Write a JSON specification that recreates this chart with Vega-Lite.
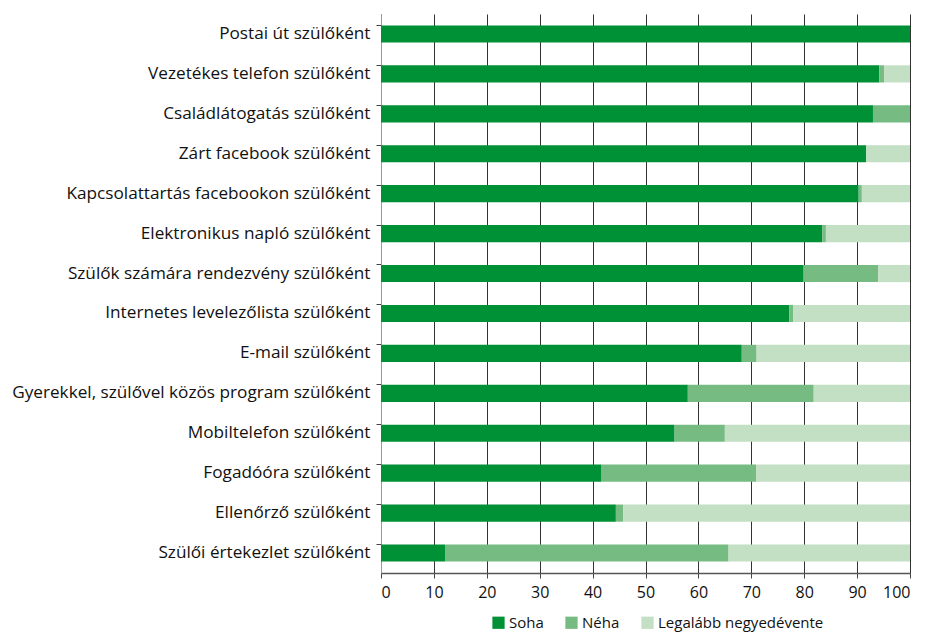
{
  "$schema": "https://vega.github.io/schema/vega-lite/v6.json",
  "width": 529,
  "height": 559,
  "autosize": "none",
  "padding": {"left": 381, "top": 14, "right": 16, "bottom": 60},
  "background": "white",
  "data": {
    "values": [
      {"cat": "Postai út szülőként", "resp": "Soha", "ord": 1, "val": 100},
      {"cat": "Postai út szülőként", "resp": "Néha", "ord": 2, "val": 0},
      {"cat": "Postai út szülőként", "resp": "Legalább negyedévente", "ord": 3, "val": 0},
      {"cat": "Vezetékes telefon szülőként", "resp": "Soha", "ord": 1, "val": 94.2},
      {"cat": "Vezetékes telefon szülőként", "resp": "Néha", "ord": 2, "val": 0.9},
      {"cat": "Vezetékes telefon szülőként", "resp": "Legalább negyedévente", "ord": 3, "val": 4.9},
      {"cat": "Családlátogatás szülőként", "resp": "Soha", "ord": 1, "val": 93.0},
      {"cat": "Családlátogatás szülőként", "resp": "Néha", "ord": 2, "val": 7.0},
      {"cat": "Családlátogatás szülőként", "resp": "Legalább negyedévente", "ord": 3, "val": 0},
      {"cat": "Zárt facebook szülőként", "resp": "Soha", "ord": 1, "val": 91.7},
      {"cat": "Zárt facebook szülőként", "resp": "Néha", "ord": 2, "val": 0},
      {"cat": "Zárt facebook szülőként", "resp": "Legalább negyedévente", "ord": 3, "val": 8.3},
      {"cat": "Kapcsolattartás facebookon szülőként", "resp": "Soha", "ord": 1, "val": 90.3},
      {"cat": "Kapcsolattartás facebookon szülőként", "resp": "Néha", "ord": 2, "val": 0.6},
      {"cat": "Kapcsolattartás facebookon szülőként", "resp": "Legalább negyedévente", "ord": 3, "val": 9.1},
      {"cat": "Elektronikus napló szülőként", "resp": "Soha", "ord": 1, "val": 83.4},
      {"cat": "Elektronikus napló szülőként", "resp": "Néha", "ord": 2, "val": 0.7},
      {"cat": "Elektronikus napló szülőként", "resp": "Legalább negyedévente", "ord": 3, "val": 15.9},
      {"cat": "Szülők számára rendezvény szülőként", "resp": "Soha", "ord": 1, "val": 79.9},
      {"cat": "Szülők számára rendezvény szülőként", "resp": "Néha", "ord": 2, "val": 14.1},
      {"cat": "Szülők számára rendezvény szülőként", "resp": "Legalább negyedévente", "ord": 3, "val": 6.0},
      {"cat": "Internetes levelezőlista szülőként", "resp": "Soha", "ord": 1, "val": 77.2},
      {"cat": "Internetes levelezőlista szülőként", "resp": "Néha", "ord": 2, "val": 0.7},
      {"cat": "Internetes levelezőlista szülőként", "resp": "Legalább negyedévente", "ord": 3, "val": 22.1},
      {"cat": "E-mail szülőként", "resp": "Soha", "ord": 1, "val": 68.2},
      {"cat": "E-mail szülőként", "resp": "Néha", "ord": 2, "val": 2.8},
      {"cat": "E-mail szülőként", "resp": "Legalább negyedévente", "ord": 3, "val": 29.0},
      {"cat": "Gyerekkel, szülővel közös program szülőként", "resp": "Soha", "ord": 1, "val": 58.0},
      {"cat": "Gyerekkel, szülővel közös program szülőként", "resp": "Néha", "ord": 2, "val": 23.8},
      {"cat": "Gyerekkel, szülővel közös program szülőként", "resp": "Legalább negyedévente", "ord": 3, "val": 18.2},
      {"cat": "Mobiltelefon szülőként", "resp": "Soha", "ord": 1, "val": 55.5},
      {"cat": "Mobiltelefon szülőként", "resp": "Néha", "ord": 2, "val": 9.5},
      {"cat": "Mobiltelefon szülőként", "resp": "Legalább negyedévente", "ord": 3, "val": 35.0},
      {"cat": "Fogadóóra szülőként", "resp": "Soha", "ord": 1, "val": 41.7},
      {"cat": "Fogadóóra szülőként", "resp": "Néha", "ord": 2, "val": 29.2},
      {"cat": "Fogadóóra szülőként", "resp": "Legalább negyedévente", "ord": 3, "val": 29.1},
      {"cat": "Ellenőrző szülőként", "resp": "Soha", "ord": 1, "val": 44.4},
      {"cat": "Ellenőrző szülőként", "resp": "Néha", "ord": 2, "val": 1.4},
      {"cat": "Ellenőrző szülőként", "resp": "Legalább negyedévente", "ord": 3, "val": 54.2},
      {"cat": "Szülői értekezlet szülőként", "resp": "Soha", "ord": 1, "val": 12.1},
      {"cat": "Szülői értekezlet szülőként", "resp": "Néha", "ord": 2, "val": 53.6},
      {"cat": "Szülői értekezlet szülőként", "resp": "Legalább negyedévente", "ord": 3, "val": 34.3}
    ]
  },
  "mark": {"type": "bar"},
  "encoding": {
    "y": {
      "field": "cat",
      "type": "nominal",
      "sort": null,
      "title": null,
      "scale": {"paddingInner": 0.57, "paddingOuter": 0.285},
      "axis": {
        "bandPosition": 0,
        "labelFont": "Open Sans",
        "labelFontSize": 17.2,
        "labelColor": "#111",
        "labelPadding": 6,
        "labelLimit": 400,
        "tickColor": "#444",
        "tickSize": 5,
        "domainColor": "#999",
        "grid": false
      }
    },
    "x": {
      "field": "val",
      "type": "quantitative",
      "stack": "zero",
      "title": null,
      "scale": {"domain": [0, 100], "nice": false},
      "axis": {
        "values": [0, 10, 20, 30, 40, 50, 60, 70, 80, 90, 100],
        "labelFont": "Open Sans",
        "labelFontSize": 16,
        "labelColor": "#111",
        "labelPadding": 6,
        "tickColor": "#444",
        "tickSize": 5,
        "domainColor": "#555",
        "domainWidth": 1.5,
        "grid": true,
        "gridColor": "#333",
        "gridWidth": 1
      }
    },
    "color": {
      "field": "resp",
      "type": "nominal",
      "scale": {
        "domain": ["Soha", "Néha", "Legalább negyedévente"],
        "range": ["#009036", "#76bc82", "#c3dfc4"]
      },
      "legend": {
        "title": null,
        "orient": "none",
        "direction": "horizontal",
        "legendX": 110,
        "legendY": 601,
        "symbolType": "square",
        "symbolSize": 150,
        "symbolStrokeWidth": 0,
        "labelFont": "Open Sans",
        "labelFontSize": 15,
        "labelColor": "#111",
        "labelLimit": 300,
        "columnPadding": 20,
        "labelOffset": 3
      }
    },
    "order": {"field": "ord", "type": "quantitative"}
  },
  "config": {"view": {"stroke": null}}
}
